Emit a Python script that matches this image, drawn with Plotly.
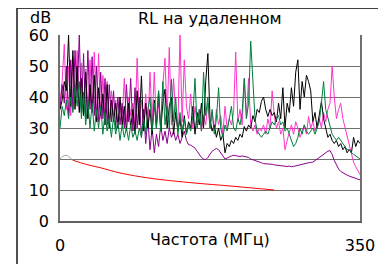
import numpy as np
import plotly.graph_objects as go

# frequency grid (MHz), 2.5 MHz step
freq = np.arange(0, 350.01, 2.5)

pink = [38, 45, 57, 36, 50, 34, 53, 38, 55, 36,
        51, 35, 49, 33, 52, 36, 54.5, 34, 54, 33,
        47, 35, 45, 32, 42, 34, 39, 31, 37, 33,
        46, 32, 40, 34, 38, 31, 52.5, 33, 39, 31,
        41, 30, 48, 32, 48, 31, 38, 30, 44, 52.5,
        33, 56, 31, 46, 34, 30, 60, 32, 52, 37,
        33, 41, 30, 37, 31, 36, 29, 34, 31, 38,
        30, 35, 29, 36, 31, 34, 28, 37, 30, 33,
        31, 35, 54.5, 32, 36, 31, 46, 33, 46, 31,
        29, 31, 28, 30, 29, 31, 28, 33, 30, 42,
        34, 30, 32, 28, 30, 23, 26, 29, 31, 28,
        32, 30, 27, 29, 31, 28, 33.7, 30, 32, 29,
        31, 33, 30, 35, 32, 36, 38, 50, 40, 33,
        36, 38, 33, 30, 27, 24, 21, 19, 17.5, 16,
        15]

purple = [36, 44, 38, 50, 34, 52, 36, 55, 40, 60,
          35, 54, 33, 55, 36, 53, 34, 50, 32, 48,
          33, 46, 31, 44, 32, 42, 30, 40, 31, 38,
          30, 44, 32, 46, 29, 43, 30, 40, 27, 36,
          25, 33, 23, 30, 22, 28, 24, 31, 26, 29,
          25, 30, 27, 29, 26, 28, 25, 27, 29, 26,
          24.6, 24.5, 24, 23.5, 22.5, 21.5, 20.5, 20, 19.8, 20.5,
          21.5, 22.5, 23, 23.4, 23, 22, 21, 20, 20.3, 20.8,
          21, 21.2, 21, 21, 20.8, 21, 20.8, 20.8, 20.5, 20,
          19.8, 19.5, 19.2, 19, 18.8, 18.5, 18.5, 18.3, 18.4, 18.3,
          18.1, 18, 17.9, 17.8, 17.9, 17.7, 17.6, 17.7, 17.5, 17.6,
          17.8, 18, 18.2, 18.4, 18.6, 18.8, 18.8, 18.9, 19, 19.5,
          20, 20.5, 21, 21.5, 22, 22.5, 22.7, 21.5, 19.5, 18,
          16.8, 16, 15.5, 15, 14.8, 14.5, 14.2, 14, 13.8, 13.5,
          13.3]

black = [36, 39, 45, 42, 60, 37, 55, 36, 50, 35,
         46, 34, 48, 33, 44, 35, 47, 32, 43, 34,
         41, 31, 44, 30, 39, 32, 38, 30, 40, 31,
         37, 29, 38, 30, 36, 28, 42, 31, 46.8, 29,
         38, 30, 36, 28, 39, 30, 42, 29, 38, 42.5,
         30, 37, 40, 28, 35, 29, 33, 27, 34, 28,
         32, 30, 37, 28, 35, 31, 38, 30, 45, 54,
         33, 29, 31, 27, 30, 26, 28, 22, 25, 24,
         26, 25, 27, 26, 28, 27, 30.5, 29, 31, 30,
         34, 32, 36, 35, 38.6, 40, 36, 33.7, 36, 34,
         35, 32, 38, 33, 43, 30, 38, 35, 43, 37,
         48, 52, 36, 45, 40, 47, 45, 42, 32, 35,
         30, 34, 38.6, 33, 30, 27, 28, 26, 25, 26,
         24, 25, 23, 24, 22, 23, 22, 27, 24, 26,
         25]

green = [30, 37, 34, 39, 33, 40, 35, 43, 37, 45,
         33, 41.5, 31, 39, 30, 38, 29, 36, 30, 37,
         28, 35, 29, 33, 27, 34, 28, 32, 26, 31,
         27, 30, 26, 31, 27, 29, 26, 30, 27, 33,
         28, 36, 40, 29, 38, 30, 42, 29, 45, 31,
         37, 30, 45.7, 32, 40, 28, 35, 29, 33, 28,
         31, 29, 34, 46, 30, 36, 29, 48, 34, 40,
         30, 36, 28, 33, 43, 30, 27, 31, 29, 33,
         37, 30, 29, 33, 31, 35, 46, 33, 38, 58,
         46, 33, 29, 28, 27, 28, 29, 28, 30, 32,
         31, 33, 34, 31, 32, 29, 30, 28, 26, 24,
         25, 27, 30, 28, 31, 29, 28, 29, 30, 28,
         30, 32, 38, 45, 36, 33, 30, 28, 27, 26,
         27, 26, 25, 24, 23, 23, 22, 21.5, 21, 20.5,
         20]

gray_freq = [0, 3, 7, 10, 15]
gray_vals = [20, 20.8, 21.2, 20.8, 19.6]

red_freq = [15, 30, 47, 70, 105, 140, 155, 202, 250]
red_vals = [19.6, 18.3, 17.2, 15.5, 13.8, 12.7, 12.3, 11.2, 10.0]

y_ticks = [0, 10, 20, 30, 40, 50, 60]
x_ticks = [0, 350]

FONT = "DejaVu Sans, Verdana, sans-serif"
FS = 16

# the page body margin offsets the figure by 8 px
OFF = 8
W, H = 386 - OFF, 264 - OFF


def px_x(p):
    # reference page pixel -> paper fraction (margins are zero)
    return min(1.0, max(0.0, (p - OFF) / W))


def px_y(p):
    return min(1.0, max(0.0, 1 - (p - OFF) / H))


fig = go.Figure()

series = [
    ("pink", pink, "#FF33CC"),
    ("purple", purple, "#8B008B"),
    ("black", black, "#000000"),
    ("green", green, "#00803C"),
]
for name, vals, col in series:
    fig.add_trace(go.Scatter(x=freq, y=vals, mode="lines", name=name,
                             line=dict(color=col, width=1)))
fig.add_trace(go.Scatter(x=gray_freq, y=gray_vals, mode="lines",
                         line=dict(color="#A0A0A0", width=1, shape="spline")))
fig.add_trace(go.Scatter(x=red_freq, y=red_vals, mode="lines",
                         line=dict(color="#FF0000", width=1, shape="spline")))
# empty trace that anchors the frame axes (outer chart border)
fig.add_trace(go.Scatter(x=[None], y=[None], xaxis="x2", yaxis="y2",
                         mode="lines", hoverinfo="skip"))

fig.update_layout(
    width=W, height=H,
    margin=dict(l=0, r=0, t=0, b=0, autoexpand=False),
    paper_bgcolor="white", plot_bgcolor="rgba(0,0,0,0)",
    showlegend=False,
    font=dict(family=FONT, size=FS, color="black"),
    xaxis=dict(domain=[px_x(60), px_x(360)], range=[0, 350],
               tickvals=x_ticks, showgrid=False, automargin=False,
               showline=True, linecolor="#606060", linewidth=2,
               zeroline=False, ticks="", ticklabelstandoff=9,
               tickfont=dict(size=FS)),
    yaxis=dict(domain=[px_y(221), px_y(35)], range=[0, 60],
               tickvals=y_ticks, showgrid=True, automargin=False,
               gridcolor="#707070", gridwidth=1,
               showline=True, linecolor="#707070", linewidth=1.5,
               mirror=True,
               zeroline=False, ticks="", ticklabelstandoff=6,
               tickfont=dict(size=FS)),
    # frame axes: their lines draw the outer border of the chart
    xaxis2=dict(domain=[px_x(17.5), px_x(379)], range=[0, 1], anchor="y2",
                side="top", showline=True, linecolor="#404040", linewidth=1,
                showgrid=False, zeroline=False, showticklabels=False,
                ticks="", automargin=False, fixedrange=True),
    yaxis2=dict(domain=[0, px_y(9)], range=[0, 1], anchor="x2",
                showline=True, mirror=True, linecolor="#505050", linewidth=1.5,
                showgrid=False, zeroline=False, showticklabels=False,
                ticks="", automargin=False, fixedrange=True),
    annotations=[
        dict(text="RL на удаленном", xref="paper", yref="paper",
             x=px_x(210), y=px_y(18), xanchor="center", yanchor="middle",
             showarrow=False, font=dict(size=FS)),
        dict(text="dB", xref="paper", yref="paper",
             x=px_x(53), y=px_y(17), xanchor="right", yanchor="middle",
             showarrow=False, font=dict(size=FS)),
        dict(text="Частота (МГц)", xref="paper", yref="paper",
             x=px_x(210), y=px_y(239), xanchor="center", yanchor="middle",
             showarrow=False, font=dict(size=FS)),
    ],
)

fig.write_html("out.html")
